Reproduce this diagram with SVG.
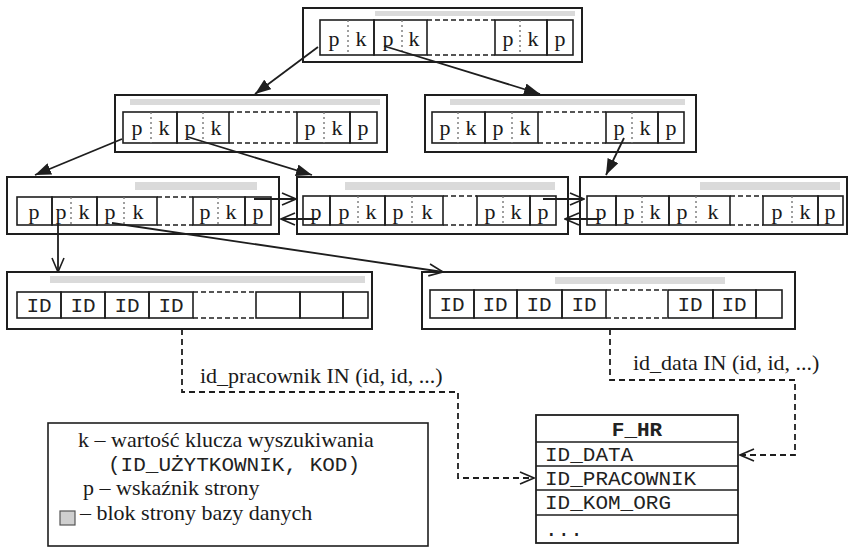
<svg xmlns="http://www.w3.org/2000/svg" width="850" height="549" viewBox="0 0 850 549">
<style>
.outer{fill:#fff;stroke:#1e1e1e;stroke-width:2}
.band{fill:#dadada}
.cell{fill:none;stroke:#1e1e1e;stroke-width:1.6}
.gap{stroke:#1e1e1e;stroke-width:1.6;stroke-dasharray:5,3}
.div{stroke:#777;stroke-width:1.4;stroke-dasharray:2,3}
.t{font-family:"Liberation Serif","DejaVu Serif",serif;font-size:22px;fill:#1a1a1a;text-anchor:middle}
.m{font-family:"Liberation Mono","DejaVu Sans Mono",monospace;font-size:21px;fill:#222;text-anchor:middle}
.ml{font-family:"Liberation Mono","DejaVu Sans Mono",monospace;font-size:21px;fill:#222}
.lbl{font-family:"Liberation Serif","DejaVu Serif",serif;font-size:22px;fill:#1a1a1a}
.con{fill:none;stroke:#1e1e1e;stroke-width:1.8}
.dcon{fill:none;stroke:#1e1e1e;stroke-width:1.8;stroke-dasharray:6,4}
</style>
<defs>
<marker id="fa" markerUnits="userSpaceOnUse" viewBox="0 0 16 12" markerWidth="16" markerHeight="12" refX="16" refY="6" orient="auto"><path d="M0,0 L16,6 L0,12 z" fill="#1e1e1e"/></marker>
<marker id="oa" markerUnits="userSpaceOnUse" viewBox="0 0 16 14" markerWidth="16" markerHeight="14" refX="15" refY="7" orient="auto"><path d="M1,1 L15,7 L1,13" fill="none" stroke="#1e1e1e" stroke-width="1.6" stroke-dasharray="none"/></marker>
</defs>

<g id="root">
<rect class="outer" x="303" y="8" width="279" height="54"/>
<rect class="band" x="375" y="11" width="200" height="5"/>
<rect class="cell" x="320" y="20" width="54" height="35"/>
<rect class="cell" x="374" y="20" width="53" height="35"/>
<line class="gap" x1="427" y1="20" x2="495" y2="20"/><line class="gap" x1="427" y1="55" x2="495" y2="55"/>
<rect class="cell" x="495" y="20" width="52" height="35"/>
<rect class="cell" x="547" y="20" width="26" height="35"/>
<line class="div" x1="348" y1="20" x2="348" y2="55"/><line class="div" x1="402" y1="20" x2="402" y2="55"/><line class="div" x1="520" y1="20" x2="520" y2="55"/>
<text class="t" x="334" y="46">p</text><text class="t" x="361" y="46">k</text>
<text class="t" x="388" y="46">p</text><text class="t" x="414" y="46">k</text>
<text class="t" x="508" y="46">p</text><text class="t" x="533" y="46">k</text>
<text class="t" x="560" y="46">p</text>
</g>

<g id="n2a">
<rect class="outer" x="115" y="95" width="272" height="57"/>
<rect class="band" x="130" y="99" width="250" height="6"/>
<rect class="cell" x="123" y="112" width="54" height="31"/>
<rect class="cell" x="177" y="112" width="52" height="31"/>
<line class="gap" x1="229" y1="112" x2="297" y2="112"/><line class="gap" x1="229" y1="143" x2="297" y2="143"/>
<rect class="cell" x="297" y="112" width="53" height="31"/>
<rect class="cell" x="350" y="112" width="27" height="31"/>
<line class="div" x1="151" y1="112" x2="151" y2="143"/><line class="div" x1="203" y1="112" x2="203" y2="143"/><line class="div" x1="324" y1="112" x2="324" y2="143"/>
<text class="t" x="137" y="135">p</text><text class="t" x="164" y="135">k</text>
<text class="t" x="190" y="135">p</text><text class="t" x="216" y="135">k</text>
<text class="t" x="310" y="135">p</text><text class="t" x="337" y="135">k</text>
<text class="t" x="363" y="135">p</text>
</g>

<g id="n2b">
<rect class="outer" x="425" y="95" width="271" height="57"/>
<rect class="band" x="450" y="99" width="235" height="6"/>
<rect class="cell" x="432" y="112" width="53" height="31"/>
<rect class="cell" x="485" y="112" width="53" height="31"/>
<line class="gap" x1="538" y1="112" x2="606" y2="112"/><line class="gap" x1="538" y1="143" x2="606" y2="143"/>
<rect class="cell" x="606" y="112" width="52" height="31"/>
<rect class="cell" x="658" y="112" width="26" height="31"/>
<line class="div" x1="458" y1="112" x2="458" y2="143"/><line class="div" x1="512" y1="112" x2="512" y2="143"/><line class="div" x1="632" y1="112" x2="632" y2="143"/>
<text class="t" x="445" y="135">p</text><text class="t" x="471" y="135">k</text>
<text class="t" x="498" y="135">p</text><text class="t" x="525" y="135">k</text>
<text class="t" x="619" y="135">p</text><text class="t" x="645" y="135">k</text>
<text class="t" x="671" y="135">p</text>
</g>

<g id="n3a">
<rect class="outer" x="7" y="177" width="272" height="57"/>
<rect class="band" x="135" y="182" width="122" height="8"/>
<rect class="cell" x="17" y="197" width="35" height="28"/>
<rect class="cell" x="52" y="197" width="45" height="28"/>
<rect class="cell" x="97" y="197" width="60" height="28"/>
<line class="gap" x1="157" y1="197" x2="193" y2="197"/><line class="gap" x1="157" y1="225" x2="193" y2="225"/>
<rect class="cell" x="193" y="197" width="52" height="28"/>
<rect class="cell" x="245" y="197" width="26" height="28"/>
<line class="div" x1="71" y1="197" x2="71" y2="225"/><line class="div" x1="124" y1="197" x2="124" y2="225"/><line class="div" x1="218" y1="197" x2="218" y2="225"/>
<text class="t" x="34" y="219">p</text>
<text class="t" x="61" y="219">p</text><text class="t" x="84" y="219">k</text>
<text class="t" x="110" y="219">p</text><text class="t" x="138" y="219">k</text>
<text class="t" x="205" y="219">p</text><text class="t" x="231" y="219">k</text>
<text class="t" x="258" y="219">p</text>
</g>

<g id="n3b">
<rect class="outer" x="297" y="177" width="271" height="57"/>
<rect class="band" x="345" y="182" width="210" height="8"/>
<rect class="cell" x="303" y="196" width="27" height="29"/>
<rect class="cell" x="330" y="196" width="55" height="29"/>
<rect class="cell" x="385" y="196" width="58" height="29"/>
<line class="gap" x1="443" y1="196" x2="477" y2="196"/><line class="gap" x1="443" y1="225" x2="477" y2="225"/>
<rect class="cell" x="477" y="196" width="53" height="29"/>
<rect class="cell" x="530" y="196" width="26" height="29"/>
<line class="div" x1="358" y1="196" x2="358" y2="225"/><line class="div" x1="412" y1="196" x2="412" y2="225"/><line class="div" x1="503" y1="196" x2="503" y2="225"/>
<text class="t" x="316" y="219">p</text>
<text class="t" x="344" y="219">p</text><text class="t" x="371" y="219">k</text>
<text class="t" x="398" y="219">p</text><text class="t" x="427" y="219">k</text>
<text class="t" x="490" y="219">p</text><text class="t" x="516" y="219">k</text>
<text class="t" x="543" y="219">p</text>
</g>

<g id="n3c">
<rect class="outer" x="580" y="177" width="267" height="57"/>
<rect class="band" x="700" y="182" width="140" height="8"/>
<rect class="cell" x="587" y="196" width="29" height="29"/>
<rect class="cell" x="616" y="196" width="53" height="29"/>
<rect class="cell" x="669" y="196" width="61" height="29"/>
<line class="gap" x1="730" y1="196" x2="763" y2="196"/><line class="gap" x1="730" y1="225" x2="763" y2="225"/>
<rect class="cell" x="763" y="196" width="55" height="29"/>
<rect class="cell" x="818" y="196" width="25" height="29"/>
<line class="div" x1="642" y1="196" x2="642" y2="225"/><line class="div" x1="696" y1="196" x2="696" y2="225"/><line class="div" x1="792" y1="196" x2="792" y2="225"/>
<text class="t" x="601" y="219">p</text>
<text class="t" x="629" y="219">p</text><text class="t" x="655" y="219">k</text>
<text class="t" x="682" y="219">p</text><text class="t" x="713" y="219">k</text>
<text class="t" x="777" y="219">p</text><text class="t" x="805" y="219">k</text>
<text class="t" x="830" y="219">p</text>
</g>

<g id="n4a">
<rect class="outer" x="7" y="272" width="365" height="57"/>
<rect class="band" x="50" y="276" width="315" height="7"/>
<rect class="cell" x="17" y="292" width="44" height="26"/>
<rect class="cell" x="61" y="292" width="44" height="26"/>
<rect class="cell" x="105" y="292" width="44" height="26"/>
<rect class="cell" x="149" y="292" width="44" height="26"/>
<line class="gap" x1="193" y1="292" x2="256" y2="292"/><line class="gap" x1="193" y1="318" x2="256" y2="318"/>
<rect class="cell" x="256" y="292" width="44" height="26"/>
<rect class="cell" x="300" y="292" width="43" height="26"/>
<rect class="cell" x="343" y="292" width="25" height="26"/>
<text class="m" x="39" y="312">ID</text><text class="m" x="83" y="312">ID</text><text class="m" x="127" y="312">ID</text><text class="m" x="171" y="312">ID</text>
</g>

<g id="n4b">
<rect class="outer" x="422" y="272" width="373" height="57"/>
<rect class="band" x="555" y="277" width="170" height="7"/>
<rect class="cell" x="430" y="290" width="44" height="28"/>
<rect class="cell" x="474" y="290" width="43" height="28"/>
<rect class="cell" x="517" y="290" width="45" height="28"/>
<rect class="cell" x="562" y="290" width="44" height="28"/>
<line class="gap" x1="606" y1="290" x2="668" y2="290"/><line class="gap" x1="606" y1="318" x2="668" y2="318"/>
<rect class="cell" x="668" y="290" width="45" height="28"/>
<rect class="cell" x="713" y="290" width="43" height="28"/>
<rect class="cell" x="756" y="290" width="26" height="28"/>
<text class="m" x="452" y="311">ID</text><text class="m" x="495" y="311">ID</text><text class="m" x="539" y="311">ID</text><text class="m" x="584" y="311">ID</text>
<text class="m" x="690" y="311">ID</text><text class="m" x="734" y="311">ID</text>
</g>

<g id="fhr">
<rect x="536" y="415" width="202" height="128" fill="#fff" stroke="#1e1e1e" stroke-width="1.8"/>
<line class="cell" x1="536" y1="442" x2="738" y2="442"/>
<line class="cell" x1="536" y1="466" x2="738" y2="466"/>
<line class="cell" x1="536" y1="490" x2="738" y2="490"/>
<line class="cell" x1="536" y1="515" x2="738" y2="515"/>
<text class="m" x="637" y="436" font-weight="bold">F_HR</text>
<text class="ml" x="545" y="461">ID_DATA</text>
<text class="ml" x="545" y="485">ID_PRACOWNIK</text>
<text class="ml" x="545" y="509">ID_KOM_ORG</text>
<text class="ml" x="545" y="536">...</text>
</g>

<g id="legend">
<rect x="48" y="423" width="380" height="123" fill="#fff" stroke="#1e1e1e" stroke-width="1.6"/>
<text class="lbl" x="78" y="447">k – wartość klucza wyszukiwania</text>
<text class="ml" x="108" y="471" font-size="19">(ID_UŻYTKOWNIK, KOD)</text>
<text class="lbl" x="83" y="495">p – wskaźnik strony</text>
<rect x="60" y="511" width="15" height="14" fill="#cfcfcf" stroke="#555" stroke-width="1.2"/>
<text class="lbl" x="80" y="520">– blok strony bazy danych</text>
</g>

<g id="connectors">
<line class="con" x1="318" y1="47" x2="255" y2="94" marker-end="url(#fa)"/>
<line class="con" x1="384" y1="46" x2="540" y2="94" marker-end="url(#fa)"/>
<line class="con" x1="122" y1="139" x2="35" y2="175" marker-end="url(#fa)"/>
<line class="con" x1="188" y1="137" x2="312" y2="175" marker-end="url(#fa)"/>
<line class="con" x1="624" y1="138" x2="606" y2="175" marker-end="url(#fa)"/>
<line class="con" x1="254" y1="199" x2="296" y2="199" marker-end="url(#oa)"/>
<line class="con" x1="318" y1="219" x2="281" y2="219" marker-end="url(#oa)"/>
<line class="con" x1="543" y1="199" x2="584" y2="199" marker-end="url(#oa)"/>
<line class="con" x1="601" y1="219" x2="565" y2="219" marker-end="url(#oa)"/>
<line class="con" x1="58" y1="224" x2="58" y2="272" marker-end="url(#oa)"/>
<line class="con" x1="112" y1="223" x2="443" y2="272" marker-end="url(#oa)"/>
<path class="dcon" d="M182,329 V392 H458 V478 H534" marker-end="url(#oa)"/>
<path class="dcon" d="M610,329 V380 H795 V455 H740" marker-end="url(#oa)"/>
<text class="lbl" x="200" y="383">id_pracownik IN (id, id, ...)</text>
<text class="lbl" x="633" y="370">id_data IN (id, id, ...)</text>
</g>
</svg>
